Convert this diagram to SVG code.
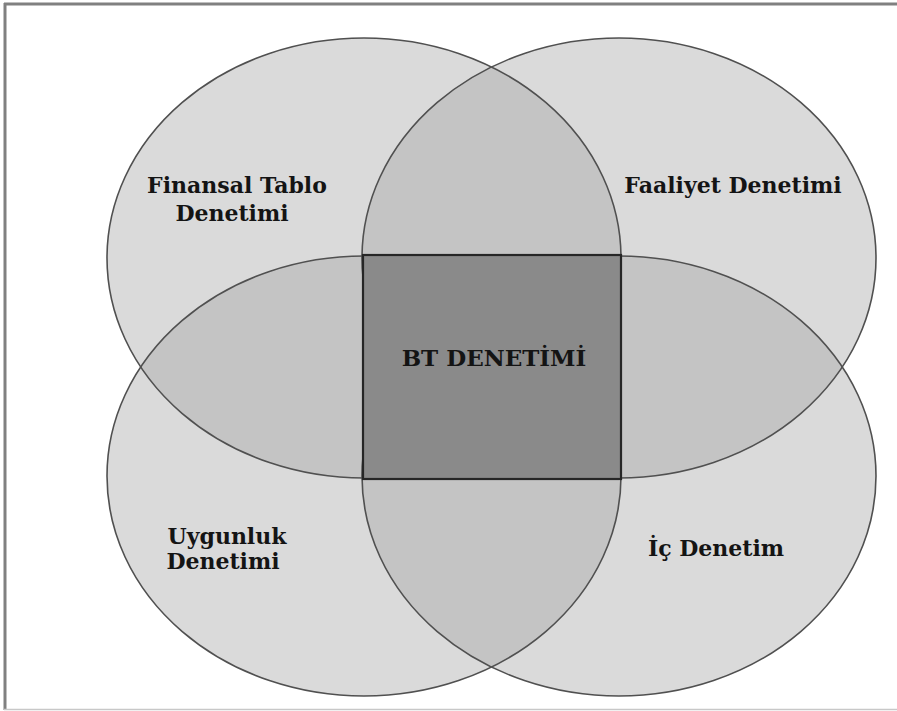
<svg xmlns="http://www.w3.org/2000/svg" width="897" height="711" viewBox="0 0 897 711">
  <style>
    .fill { fill: #dadada; stroke: none; }
    .lens { fill: #c4c4c4; stroke: none; }
    .outline { fill: none; stroke: #505050; stroke-width: 1.6; }
    .core { fill: #8a8a8a; stroke: #262626; stroke-width: 2.2; }
    .lbl { font-family: "DejaVu Serif", "Liberation Serif", serif; font-weight: bold; font-size: 22px; fill: #141414; text-anchor: middle; }
  </style>
  <defs>
    <clipPath id="cTL"><ellipse cx="364" cy="258" rx="257" ry="220"/></clipPath>
    <clipPath id="cTR"><ellipse cx="619" cy="258" rx="257" ry="220"/></clipPath>
    <clipPath id="cBL"><ellipse cx="364" cy="476" rx="257" ry="220"/></clipPath>
  </defs>
  <rect x="0" y="0" width="897" height="711" fill="#ffffff"/>
  <g id="frame">
    <line x1="4" y1="4" x2="897" y2="4" stroke="#808080" stroke-width="3"/>
    <line x1="5" y1="3" x2="5" y2="710" stroke="#808080" stroke-width="3"/>
    <line x1="4" y1="709.5" x2="897" y2="709.5" stroke="#c8c8c8" stroke-width="1.5"/>
  </g>
  <g id="fills">
    <ellipse class="fill" cx="364" cy="258" rx="257" ry="220"/>
    <ellipse class="fill" cx="619" cy="258" rx="257" ry="220"/>
    <ellipse class="fill" cx="364" cy="476" rx="257" ry="220"/>
    <ellipse class="fill" cx="619" cy="476" rx="257" ry="220"/>
  </g>
  <g id="overlaps">
    <ellipse class="lens" cx="619" cy="258" rx="257" ry="220" clip-path="url(#cTL)"/>
    <ellipse class="lens" cx="364" cy="476" rx="257" ry="220" clip-path="url(#cTL)"/>
    <ellipse class="lens" cx="619" cy="476" rx="257" ry="220" clip-path="url(#cTR)"/>
    <ellipse class="lens" cx="619" cy="476" rx="257" ry="220" clip-path="url(#cBL)"/>
  </g>
  <g id="finansal-tablo">
    <ellipse class="outline" cx="364" cy="258" rx="257" ry="220"/>
    <text class="lbl" x="237" y="193">Finansal Tablo</text>
    <text class="lbl" x="232" y="221">Denetimi</text>
  </g>
  <g id="faaliyet">
    <ellipse class="outline" cx="619" cy="258" rx="257" ry="220"/>
    <text class="lbl" x="733" y="193">Faaliyet Denetimi</text>
  </g>
  <g id="uygunluk">
    <ellipse class="outline" cx="364" cy="476" rx="257" ry="220"/>
    <text class="lbl" x="227" y="544">Uygunluk</text>
    <text class="lbl" x="223" y="569">Denetimi</text>
  </g>
  <g id="ic-denetim">
    <ellipse class="outline" cx="619" cy="476" rx="257" ry="220"/>
    <text class="lbl" x="716" y="556">İç Denetim</text>
  </g>
  <g id="bt-denetimi">
    <rect class="core" x="363" y="255" width="258" height="224"/>
    <text class="lbl" x="494" y="366" style="font-size:23px">BT DENETİMİ</text>
  </g>
  <g id="connectors"/>
</svg>
